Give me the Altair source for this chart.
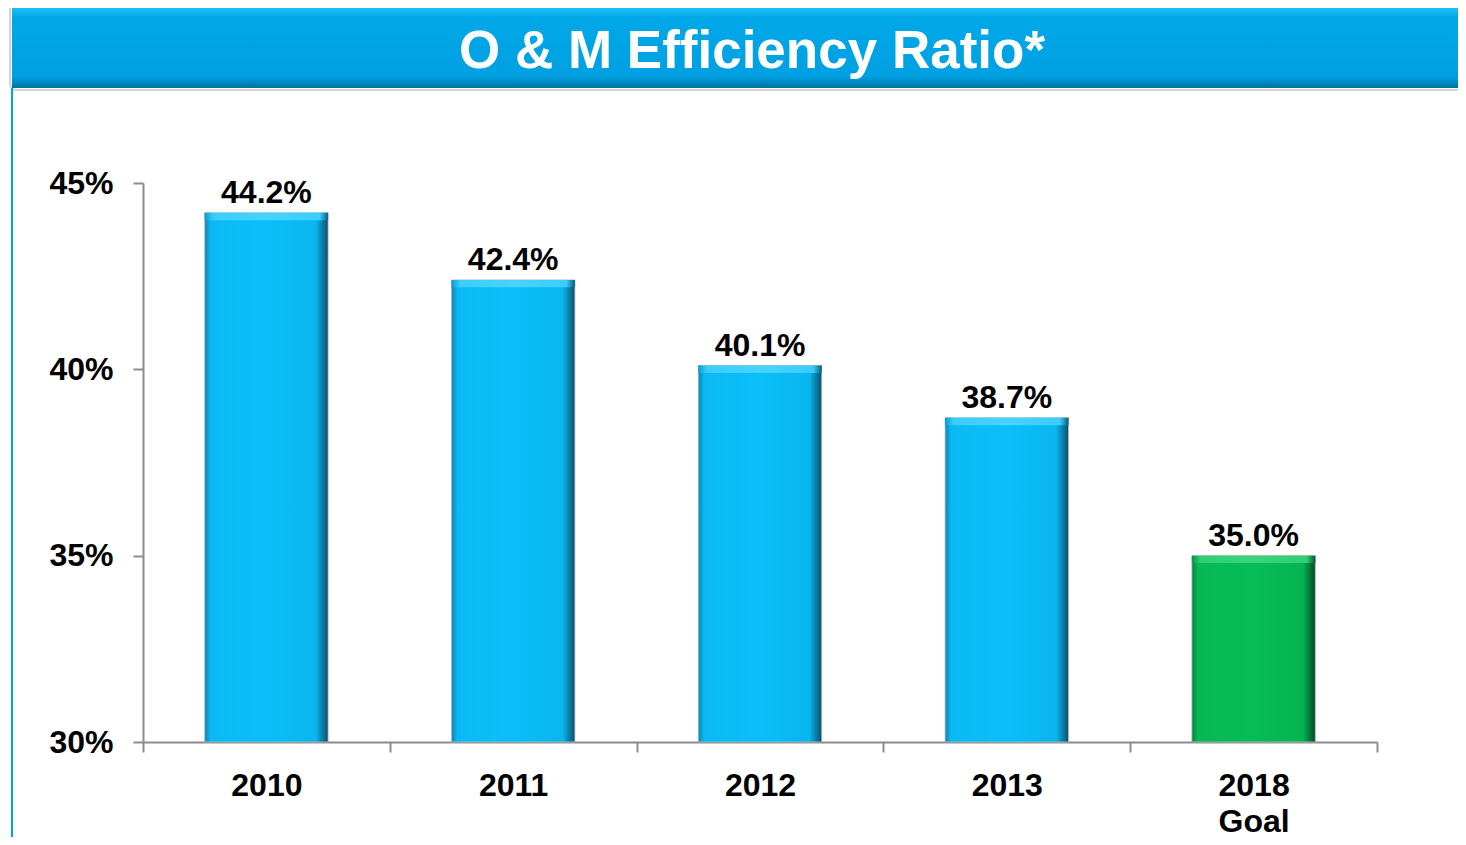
import altair as alt
import pandas as pd

# ---- data ----
categories = ["2010", "2011", "2012", "2013", "2018\nGoal"]
values = [44.2, 42.4, 40.1, 38.7, 35.0]
kinds = ["actual", "actual", "actual", "actual", "goal"]
y_ticks = [30, 35, 40, 45]
title_text = "O & M Efficiency Ratio*"

df = pd.DataFrame({"cat": categories, "value": values, "kind": kinds})

FONT = "Liberation Sans"
W, H = 1234, 559


def hgrad(stops):
    return alt.Gradient(
        gradient="linear", x1=0, x2=1, y1=0, y2=0,
        stops=[alt.GradientStop(offset=o, color=c) for o, c in stops],
    )


blue_grad = hgrad([(0.0, "#0A86B6"), (0.05, "#0BBAF4"), (0.5, "#0BBEF9"),
                   (0.9, "#0AB6EE"), (1.0, "#0A4F6C")])
green_grad = hgrad([(0.0, "#05843E"), (0.05, "#06B954"), (0.5, "#06BC57"),
                    (0.9, "#06B451"), (1.0, "#034A24")])
blue_top = hgrad([(0.0, "#0A9CD0"), (0.07, "#3ACDFC"), (0.5, "#48D3FF"),
                  (0.93, "#3ACDFC"), (1.0, "#0A5E80")])
green_top = hgrad([(0.0, "#05934A"), (0.07, "#2FCF72"), (0.5, "#3AD47A"),
                   (0.93, "#2FCF72"), (1.0, "#04582B")])
header_grad = alt.Gradient(
    gradient="linear", x1=0, x2=0, y1=0, y2=1,
    stops=[
        alt.GradientStop(offset=0.0, color="#22BDF5"),
        alt.GradientStop(offset=0.12, color="#00A8E8"),
        alt.GradientStop(offset=0.85, color="#00A0E2"),
        alt.GradientStop(offset=0.94, color="#0088BF"),
        alt.GradientStop(offset=1.0, color="#0070A0"),
    ],
)

x_scale = alt.Scale(paddingInner=0, paddingOuter=0)
x_enc = alt.X(
    "cat:N", sort=categories, title=None, scale=x_scale,
    axis=alt.Axis(
        labelAngle=0, labelFont=FONT, labelFontSize=32, labelFontWeight="bold",
        labelColor="#000000", labelPadding=18, labelLineHeight=36,
        labelExpr="split(datum.label, '\\n')",
        tickBand="extent",
        tickSize=10, tickColor="#8C8C8C", tickWidth=2,
        domainColor="#8C8C8C", domainWidth=2,
    ),
)
y_scale = alt.Scale(domain=[30, 45], zero=False, nice=False)
y_enc = alt.Y(
    "value:Q", scale=y_scale, title=None,
    axis=alt.Axis(
        values=y_ticks, labelExpr="datum.value + '%'",
        labelFont=FONT, labelFontSize=32, labelFontWeight="bold",
        labelColor="#000000", labelPadding=20,
        tickSize=10, tickColor="#8C8C8C", tickWidth=2,
        domainColor="#8C8C8C", domainWidth=2, grid=False,
    ),
)
x_plain = alt.X("cat:N", sort=categories, scale=x_scale)
y_plain = alt.Y("value:Q", scale=y_scale)

BAR_W = alt.RelativeBandSize(band=0.5)
base = alt.Chart(df)

bars_blue = base.transform_filter("datum.kind == 'actual'").mark_bar(
    color=blue_grad, stroke="#B8B8B8", strokeWidth=0.8, width=BAR_W
).encode(x=x_enc, y=y_enc, y2=alt.datum(30))

bars_green = base.transform_filter("datum.kind == 'goal'").mark_bar(
    color=green_grad, stroke="#B8B8B8", strokeWidth=0.8, width=BAR_W
).encode(x=x_plain, y=y_plain, y2=alt.datum(30))

top_blue = base.transform_filter("datum.kind == 'actual'").transform_calculate(
    v2="datum.value - 0.2"
).mark_bar(color=blue_top, width=BAR_W).encode(x=x_plain, y=y_plain, y2="v2:Q")

top_green = base.transform_filter("datum.kind == 'goal'").transform_calculate(
    v2="datum.value - 0.2"
).mark_bar(color=green_top, width=BAR_W).encode(x=x_plain, y=y_plain, y2="v2:Q")

labels = base.transform_calculate(
    lbl="format(datum.value, '.1f') + '%'"
).mark_text(
    font=FONT, fontSize=32, fontWeight="bold", color="#000000",
    baseline="alphabetic", dy=-10,
).encode(x=x_plain, y=y_plain, text="lbl:N")

deco = alt.Chart(pd.DataFrame({"t": [title_text]}))

outline = deco.mark_rect(
    fill="transparent", stroke="#D4D4D4", strokeWidth=2, cornerRadius=6, clip=False
).encode(x=alt.value(-133), x2=alt.value(1340), y=alt.value(-180), y2=alt.value(-93))

header = deco.mark_rect(color=header_grad, clip=False).encode(
    x=alt.value(-131), x2=alt.value(1340), y=alt.value(-175), y2=alt.value(-95)
)

frame = deco.mark_rule(color="#00A3E4", strokeWidth=2, clip=False).encode(
    x=alt.value(-131), y=alt.value(-95), y2=alt.value(670)
)

title = deco.mark_text(
    font=FONT, fontSize=53, fontWeight="bold", color="#FFFFFF",
    align="center", baseline="alphabetic",
).encode(x=alt.value(609), y=alt.value(-115), text="t:N")

chart = alt.layer(
    outline, header, frame, title, bars_blue, bars_green, top_blue, top_green, labels
).properties(
    width=W, height=H,
    autosize=alt.AutoSizeParams(type="none"),
    padding={"left": 135, "top": 175, "right": 81, "bottom": 95},
    background="#FFFFFF",
).configure_view(strokeWidth=0)

chart.save("out.html", embed_options={"renderer": "svg", "actions": False})
